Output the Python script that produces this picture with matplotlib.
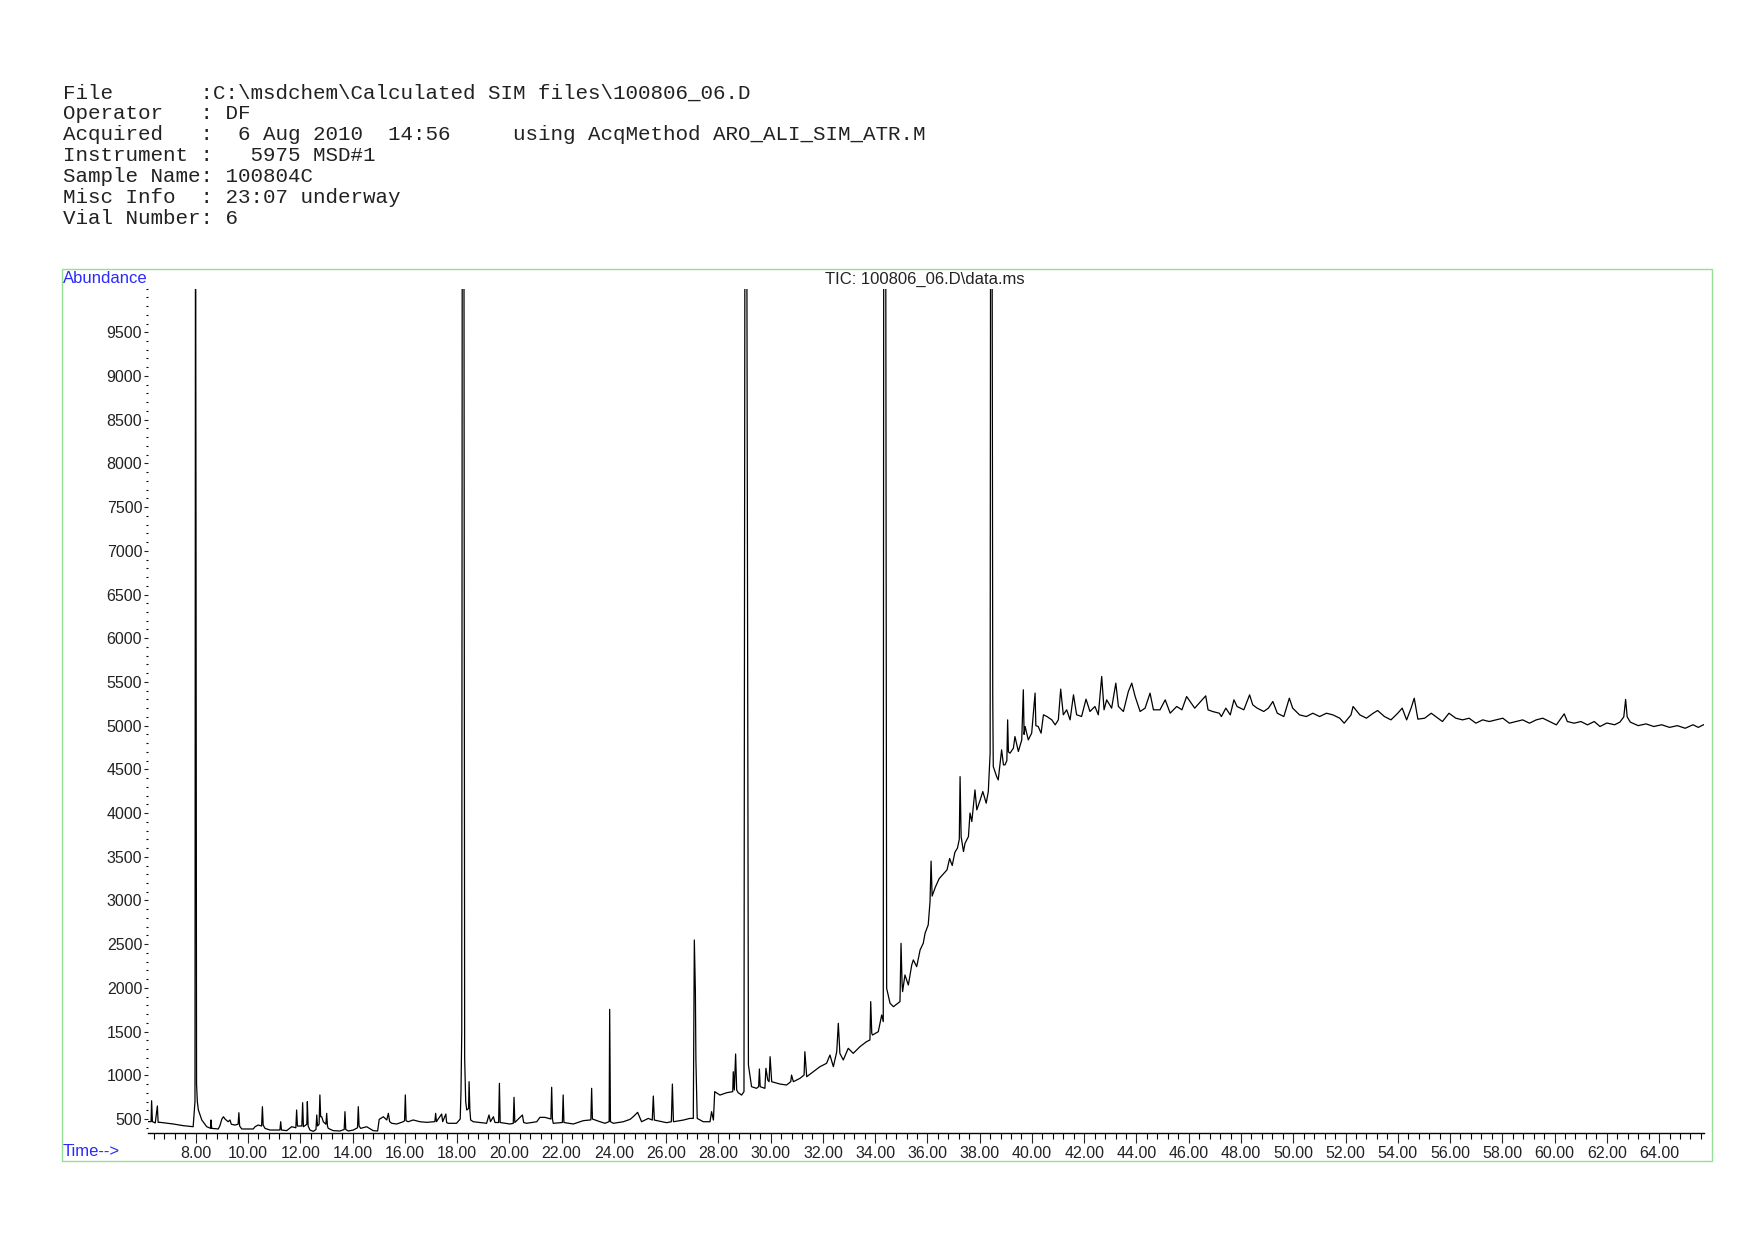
import numpy as np
import matplotlib
matplotlib.use("Agg")
import matplotlib.pyplot as plt
from matplotlib.ticker import MultipleLocator, FormatStrFormatter

plt.rcParams['font.family'] = ['Liberation Sans', 'DejaVu Sans']

# header block of the report
header = [
    r"File       :C:\msdchem\Calculated SIM files\100806_06.D",
    r"Operator   : DF",
    r"Acquired   :  6 Aug 2010  14:56     using AcqMethod ARO_ALI_SIM_ATR.M",
    r"Instrument :   5975 MSD#1",
    r"Sample Name: 100804C",
    r"Misc Info  : 23:07 underway",
    r"Vial Number: 6",
]
title = r"TIC: 100806_06.D\data.ms"

# TIC trace (time in min, abundance); 12000 = off scale
time_min = [
    6.16, 6.29, 6.31, 6.34, 6.45, 6.53, 6.56, 6.63, 7.14, 7.52, 7.90, 7.97, 7.99, 8.01, 8.03, 8.06,
    8.10, 8.23, 8.42, 8.57, 8.58, 8.61, 8.86, 8.92, 9.00, 9.06, 9.12, 9.24, 9.31, 9.36, 9.50, 9.62,
    9.65, 9.68, 9.76, 10.20, 10.27, 10.39, 10.52, 10.55, 10.58, 10.65, 10.84, 11.22, 11.25, 11.28,
    11.48, 11.67, 11.83, 11.86, 11.89, 12.06, 12.09, 12.12, 12.25, 12.27, 12.30, 12.37, 12.50, 12.60,
    12.63, 12.66, 12.72, 12.75, 12.78, 12.82, 12.88, 12.98, 13.01, 13.04, 13.07, 13.26, 13.52, 13.68,
    13.71, 13.74, 13.84, 14.03, 14.19, 14.22, 14.25, 14.31, 14.54, 14.79, 14.96, 15.02, 15.18, 15.31,
    15.37, 15.42, 15.50, 15.69, 15.94, 15.99, 16.02, 16.05, 16.13, 16.32, 16.58, 16.84, 17.15, 17.18,
    17.21, 17.41, 17.45, 17.57, 17.60, 17.66, 17.98, 18.12, 18.15, 18.18, 18.20, 18.26, 18.29, 18.33,
    18.37, 18.44, 18.46, 18.49, 18.52, 18.62, 19.13, 19.22, 19.28, 19.39, 19.45, 19.59, 19.62, 19.65,
    20.02, 20.15, 20.18, 20.21, 20.50, 20.55, 20.66, 21.05, 21.17, 21.36, 21.59, 21.62, 21.65, 21.68,
    22.03, 22.06, 22.09, 22.45, 22.83, 23.12, 23.15, 23.18, 23.47, 23.66, 23.82, 23.84, 23.87, 23.98,
    24.36, 24.62, 24.74, 24.91, 25.06, 25.32, 25.47, 25.51, 25.55, 26.02, 26.20, 26.24, 26.28, 26.66,
    26.91, 27.04, 27.08, 27.12, 27.14, 27.19, 27.42, 27.68, 27.74, 27.81, 27.86, 28.06, 28.32, 28.55,
    28.57, 28.61, 28.66, 28.70, 28.76, 28.89, 28.98, 29.02, 29.08, 29.15, 29.27, 29.46, 29.54, 29.57,
    29.60, 29.78, 29.82, 29.89, 29.94, 29.98, 30.04, 30.36, 30.61, 30.77, 30.80, 30.87, 31.12, 31.28,
    31.31, 31.38, 31.63, 31.89, 32.14, 32.27, 32.40, 32.53, 32.59, 32.65, 32.78, 32.97, 33.16, 33.42,
    33.67, 33.80, 33.83, 33.87, 33.90, 34.12, 34.25, 34.31, 34.33, 34.40, 34.44, 34.57, 34.70, 34.95,
    34.99, 35.03, 35.05, 35.14, 35.27, 35.40, 35.46, 35.59, 35.72, 35.84, 35.91, 36.03, 36.10, 36.14,
    36.18, 36.30, 36.45, 36.60, 36.75, 36.85, 36.95, 37.05, 37.15, 37.22, 37.25, 37.29, 37.38, 37.44,
    37.57, 37.63, 37.70, 37.82, 37.89, 38.02, 38.12, 38.25, 38.33, 38.40, 38.42, 38.47, 38.50, 38.52,
    38.65, 38.71, 38.78, 38.84, 38.91, 38.97, 39.04, 39.07, 39.10, 39.16, 39.29, 39.35, 39.48, 39.61,
    39.67, 39.70, 39.74, 39.86, 39.99, 40.12, 40.15, 40.24, 40.35, 40.44, 40.57, 40.76, 40.89, 41.01,
    41.10, 41.20, 41.33, 41.46, 41.59, 41.71, 41.90, 42.07, 42.22, 42.41, 42.54, 42.67, 42.76, 42.86,
    43.05, 43.21, 43.31, 43.50, 43.69, 43.82, 43.95, 44.14, 44.33, 44.52, 44.65, 44.90, 45.10, 45.29,
    45.54, 45.74, 45.92, 46.23, 46.65, 46.74, 46.91, 47.17, 47.25, 47.42, 47.59, 47.73, 47.85, 48.11,
    48.33, 48.45, 48.62, 48.87, 49.05, 49.22, 49.39, 49.64, 49.85, 49.98, 50.24, 50.50, 50.75, 51.01,
    51.27, 51.52, 51.78, 51.95, 52.21, 52.29, 52.55, 52.80, 53.06, 53.23, 53.49, 53.74, 54.00, 54.17,
    54.34, 54.51, 54.63, 54.77, 55.03, 55.28, 55.45, 55.71, 55.96, 56.22, 56.48, 56.73, 56.99, 57.25,
    57.50, 57.76, 58.02, 58.27, 58.53, 58.78, 59.04, 59.30, 59.55, 59.81, 60.07, 60.37, 60.49, 60.75,
    61.01, 61.26, 61.52, 61.74, 62.00, 62.30, 62.50, 62.65, 62.72, 62.78, 62.90, 63.20, 63.50, 63.80,
    64.10, 64.40, 64.70, 65.00, 65.30, 65.50, 65.70,
]
abundance = [
    470, 470, 709, 470, 455, 649, 462, 462, 443, 424, 412, 700, 12000, 7100, 900, 698,
    603, 489, 412, 393, 489, 393, 386, 420, 500, 526, 500, 469, 489, 440, 431, 440,
    572, 420, 386, 386, 412, 431, 420, 641, 430, 393, 374, 374, 469, 374,
    367, 412, 400, 603, 420, 420, 687, 412, 440, 698, 420, 374, 359, 380,
    546, 420, 440, 775, 526, 526, 469, 440, 565, 420, 393, 367, 363, 380,
    584, 380, 363, 374, 400, 641, 420, 393, 412, 367, 363, 496, 526, 489,
    565, 470, 451, 443, 469, 480, 775, 480, 469, 489, 469, 462, 470, 565,
    470, 557, 470, 557, 460, 451, 451, 500, 813, 1500, 12000, 12000, 1200, 700,
    603, 620, 927, 600, 489, 469, 451, 546, 470, 526, 460, 460, 908, 460,
    443, 450, 748, 460, 546, 460, 451, 469, 519, 519, 500, 863, 500, 451,
    460, 775, 460, 443, 481, 490, 851, 500, 469, 451, 470, 1755, 470, 451,
    469, 496, 526, 576, 469, 507, 488, 763, 488, 458, 469, 900, 469, 488,
    507, 507, 2548, 1957, 1175, 507, 469, 469, 584, 488, 813, 774, 801, 813,
    1041, 832, 1244, 832, 801, 774, 813, 12000, 12000, 1118, 870, 851, 870, 1072,
    870, 851, 1080, 946, 927, 1213, 927, 900, 889, 927, 1003, 927, 965, 1003,
    1270, 984, 1041, 1099, 1137, 1232, 1099, 1270, 1595, 1251, 1175, 1309, 1251, 1328,
    1385, 1404, 1843, 1480, 1461, 1499, 1690, 1614, 12000, 12000, 1995, 1824, 1785, 1843,
    2510, 2053, 1957, 2148, 2033, 2262, 2320, 2243, 2434, 2510, 2625, 2720, 2987, 3450,
    3050, 3150, 3250, 3300, 3350, 3480, 3400, 3550, 3600, 3700, 4417, 3731, 3559, 3655,
    3731, 4000, 3903, 4265, 4036, 4150, 4246, 4113, 4246, 4685, 12000, 12000, 5333, 4532,
    4417, 4379, 4570, 4723, 4551, 4551, 4600, 5066, 4700, 4685, 4742, 4875, 4704, 4837,
    5410, 4900, 4990, 4837, 4914, 5372, 5000, 4990, 4914, 5124, 5105, 5066, 5009, 5066,
    5418, 5124, 5181, 5066, 5353, 5124, 5105, 5303, 5162, 5219, 5124, 5562, 5181, 5295,
    5200, 5486, 5219, 5162, 5391, 5486, 5333, 5162, 5200, 5372, 5181, 5181, 5295, 5143,
    5219, 5181, 5333, 5200, 5341, 5181, 5162, 5142, 5104, 5200, 5123, 5295, 5219, 5181,
    5352, 5238, 5200, 5162, 5200, 5276, 5142, 5104, 5314, 5200, 5123, 5104, 5142, 5104,
    5142, 5123, 5085, 5028, 5123, 5219, 5123, 5085, 5142, 5173, 5104, 5066, 5142, 5200,
    5066, 5200, 5314, 5074, 5085, 5142, 5104, 5047, 5142, 5085, 5066, 5085, 5028, 5066,
    5047, 5066, 5085, 5028, 5047, 5066, 5028, 5066, 5085, 5047, 5009, 5135, 5047, 5028,
    5047, 5009, 5047, 4990, 5030, 5010, 5040, 5100, 5300, 5100, 5040, 5000, 5020, 4990,
    5010, 4980, 5000, 4970, 5010, 4980, 5010,
]

fig = plt.figure(figsize=(17.54, 12.40), dpi=100)

# report header, monospace like the instrument printout
for i, line in enumerate(header):
    fig.text(0.0357, 0.9252 - i * 0.01685, line, family='Liberation Mono',
             fontsize=15, va='center', ha='left', color='#222222')

# light green frame round the chromatogram
fig.add_artist(plt.Rectangle((0.0353, 0.0637), 0.9410, 0.7190, transform=fig.transFigure,
                             fill=False, edgecolor='#96e096', lw=1.0))

ax = fig.add_axes([0.0842, 0.0865, 0.8873, 0.6808])
ax.plot(time_min, abundance, color='black', lw=0.9)

ax.set_xlim(6.16, 65.72)
ax.set_ylim(343, 10000)

ax.xaxis.set_minor_locator(MultipleLocator(0.4))
ax.xaxis.set_major_formatter(FormatStrFormatter('%.2f'))
ax.set_xticks(np.arange(8, 65, 2))
ax.yaxis.set_minor_locator(MultipleLocator(100))
ax.set_yticks(np.arange(500, 10000, 500))

for s in ['left', 'top', 'right']:
    ax.spines[s].set_visible(False)
ax.spines['bottom'].set_linewidth(1.0)

ax.tick_params(axis='x', which='major', length=7.2, width=0.8, pad=2.5, labelsize=11.5, colors='#222222')
ax.tick_params(axis='x', which='minor', length=4.3, width=0.8)
ax.tick_params(axis='y', which='major', length=3, width=0.8, pad=1, labelsize=11.5, colors='#222222')
ax.tick_params(axis='y', which='minor', length=1.5, width=0.8)

fig.text(0.5274, 0.7745, title, ha='center', va='center', fontsize=12, color='#222222')
fig.text(0.0357, 0.7754, "Abundance", ha='left', va='center', fontsize=12, color='#2a2aff')
fig.text(0.0357, 0.0710, "Time-->", ha='left', va='center', fontsize=12, color='#2a2aff')

fig.savefig('out.png', dpi=100)
